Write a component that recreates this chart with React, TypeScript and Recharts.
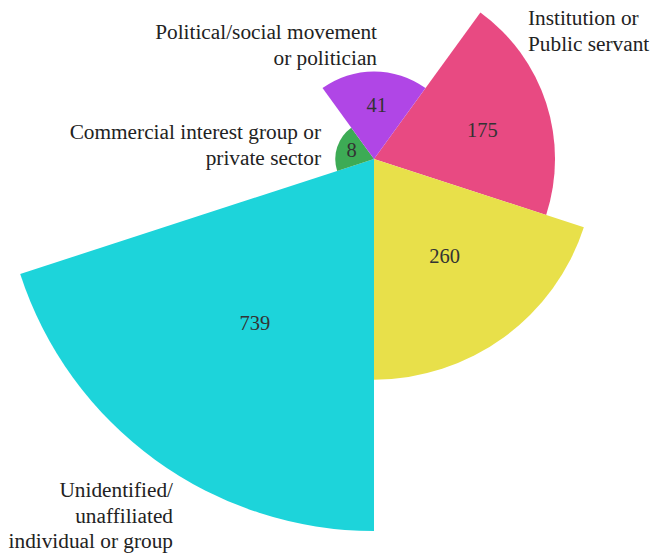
import { PieChart, Pie, Cell } from "recharts";

const categories = [
  "Institution or Public servant",
  "Media",
  "Unidentified/ unaffiliated individual or group",
  "Commercial interest group or private sector",
  "Political/social movement or politician",
];
const values = [175, 260, 739, 8, 41];
const colors = ["#e84a82", "#e8e04a", "#1dd4da", "#3dab55", "#b046e6"];
// outer labels as drawn, line by line (the yellow slice has none in the picture)
const nameLines = [
  ["Institution or", "Public servant"],
  [],
  ["Unidentified/", "unaffiliated", "individual or group"],
  ["Commercial interest group or", "private sector"],
  ["Political/social movement", "or politician"],
];
const nameAnchors = [
  { x: 528, y: 25, anchor: "start" },
  null,
  { x: 173, y: 497, anchor: "end" },
  { x: 321, y: 139, anchor: "end" },
  { x: 377, y: 39, anchor: "end" },
];

const CX = 374;
const CY = 159;
const START = 54;
const STEP = 360 / values.length;
const SCALE = 372 / Math.sqrt(739);
const FONT = "'Liberation Serif', serif";

const RAD = Math.PI / 180;

export default function App() {
  return (
    <div style={{ position: "absolute", left: 0, top: 0, width: 650, height: 556, background: "#fff" }}>
      <PieChart width={650} height={556} margin={{ top: 0, right: 0, bottom: 0, left: 0 }}>
        {values.map((v, i) => {
          const r = SCALE * Math.sqrt(v);
          const start = START - STEP * i;
          return (
            <Pie
              key={categories[i]}
              data={[{ name: categories[i], value: v }]}
              dataKey="value"
              cx={CX}
              cy={CY}
              innerRadius={0}
              outerRadius={r}
              startAngle={start}
              endAngle={start - STEP}
              stroke="none"
              isAnimationActive={false}
              labelLine={false}
              label={(p: any) => {
                const mid = (r > 200 ? p.midAngle : p.midAngle - 3) * RAD;
                const d = r * (r > 200 ? 0.545 : 0.62);
                return (
                  <text
                    x={CX + d * Math.cos(mid)}
                    y={CY - d * Math.sin(mid)}
                    textAnchor="middle"
                    dominantBaseline="central"
                    style={{ fontFamily: FONT, fontSize: 20.5 }}
                    fill="#333"
                  >
                    {p.value}
                  </text>
                );
              }}
            >
              <Cell fill={colors[i]} />
            </Pie>
          );
        })}
        {nameLines.map((lines, i) => {
          const a = nameAnchors[i];
          if (!a) return null;
          return (
            <text key={i} x={a.x} y={a.y} textAnchor={a.anchor as any} style={{ fontFamily: FONT, fontSize: 21.3 }} fill="#222">
              {lines.map((l, j) => (
                <tspan key={j} x={a.x} dy={j === 0 ? 0 : 25.5}>
                  {l}
                </tspan>
              ))}
            </text>
          );
        })}
      </PieChart>
    </div>
  );
}
